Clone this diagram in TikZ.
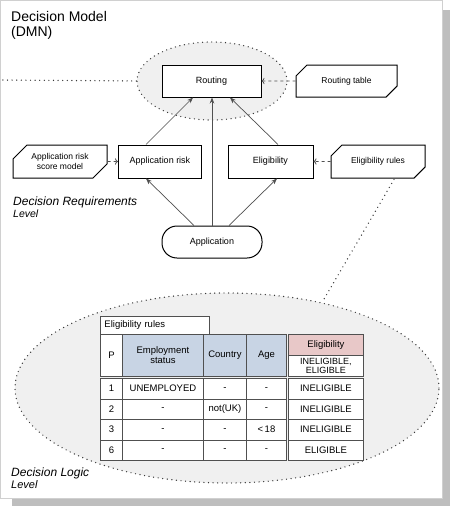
\documentclass[tikz,border=0pt]{standalone}
\usepackage{fontspec}
\setmainfont{Liberation Sans}
\usepackage{tikz}
\usetikzlibrary{calc}
\usetikzlibrary{positioning}
\usetikzlibrary{shapes.geometric}
\usetikzlibrary{shapes.misc}
\usetikzlibrary{arrows.meta}
\definecolor{panelgray}{HTML}{D0D0D0}
\definecolor{shadowgray}{HTML}{BEBEBE}
\definecolor{cloudgray}{HTML}{F0F0F0}
\definecolor{inputblue}{HTML}{C8D4E4}
\definecolor{outputpink}{HTML}{E8C8C8}
\definecolor{edgegray}{HTML}{505050}
\definecolor{dotgray}{HTML}{383838}
\tikzstyle{decisionnode} = [draw, fill=white, rectangle, line width=1pt, minimum width=84pt, minimum height=33pt, font=\fontsize{9}{10}\selectfont]
\tikzstyle{sourcenode} = [draw, fill=white, chamfered rectangle, chamfered rectangle corners={north west,south east}, chamfered rectangle xsep=7pt, chamfered rectangle ysep=7pt, line width=1pt, minimum width=94pt, minimum height=33pt, inner sep=0pt, align=center, font=\fontsize{8.5}{9.5}\selectfont]
\tikzstyle{datanode} = [draw, fill=white, rectangle, rounded corners=15pt, line width=1pt, minimum width=100pt, minimum height=32pt, font=\fontsize{9}{10}\selectfont]
\tikzstyle{cloudnode} = [draw=dotgray, ellipse, fill=cloudgray, line width=1.4pt, line cap=round, dash pattern=on 0pt off 4.6pt]
\tikzstyle{dotlink} = [draw=dotgray, line width=1.4pt, line cap=round, dash pattern=on 0pt off 4.6pt]
\tikzstyle{inforeq} = [draw=edgegray, line width=0.7pt, -{Stealth[length=6pt,width=4.5pt]}]
\tikzstyle{knowreq} = [draw=edgegray, line width=0.7pt, dashed, -{To[length=3pt]}]
\tikzstyle{cellnode} = [draw=edgegray, fill=white, rectangle, line width=0.9pt, inner sep=0pt, anchor=north west, align=center, font=\fontsize{9.5}{10}\selectfont]
\tikzstyle{levelnode} = [anchor=north west, align=left, inner sep=0pt, font=\itshape\fontsize{12}{12}\selectfont]

\begin{document}
\begin{tikzpicture}[x=1pt, y=-1pt]
    \useasboundingbox (0,0) rectangle (450,506);
    \fill[shadowgray] (12,10) rectangle (450,506);
    \draw[panelgray, fill=white] (0.5,0.5) rectangle (442,498.5);

    \node[anchor=north west, align=left, inner sep=0pt, font=\fontsize{14}{15}\selectfont] (title) at (11,11) {Decision Model\\(DMN)};

    \node[cloudnode, minimum width=150pt, minimum height=78pt] (req_cloud) at (212,81) {};
    \node[cloudnode, minimum width=424pt, minimum height=190pt] (logic_cloud) at (227,388) {};
    \coordinate (left_edge) at (0,80);
    \draw[dotlink] (req_cloud.west) -- (left_edge);

    \node[decisionnode, minimum width=99pt, minimum height=32pt] (routing) at (211.5,81) {Routing};
    \node[sourcenode, minimum width=101pt, minimum height=32pt] (routing_table) at ($(routing)+(135,0)$) {Routing table};
    \node[decisionnode, minimum width=83pt] (app_risk) at ($(routing)+(-51.5,80.5)$) {Application risk};
    \node[decisionnode, minimum width=85pt] (eligibility) at ($(routing)+(59,80.5)$) {Eligibility};
    \node[sourcenode] (risk_model) at ($(app_risk)+(-100,0)$) {Application risk\\score model};
    \node[sourcenode] (elig_rules) at ($(eligibility)+(107.5,0)$) {Eligibility rules};
    \node[datanode] (application) at ($(routing)+(0.5,161)$) {Application};

    \draw[inforeq] ($(application.north)+(-18,0)$) -- ($(app_risk.south)+(-14,0)$);
    \draw[inforeq] ($(application.north)+(17,0)$) -- ($(eligibility.south)+(6.5,0)$);
    \draw[inforeq] (application.north) -- (application.north |- routing.south);
    \draw[inforeq] ($(app_risk.north)+(-14,0)$) -- ($(routing.south)+(-18.5,0)$);
    \draw[inforeq] ($(eligibility.north)+(7.5,0)$) -- ($(routing.south)+(18.5,0)$);
    \draw[knowreq] (routing_table) -- (routing);
    \draw[knowreq] (risk_model) -- (app_risk);
    \draw[knowreq] (elig_rules) -- (eligibility);

    \node[levelnode] (req_level) at (13,197) {Decision Requirements\\{\fontsize{10.5}{10.5}\selectfont Level}};

    \draw[dotlink] ($(elig_rules.south)+(16,1)$) -- (logic_cloud.42);

    \node[cellnode, minimum width=109pt, minimum height=18pt, text width=101pt, inner xsep=4pt, align=left] (rules_tab) at (100,316) {Eligibility rules};
    \node[cellnode, minimum width=22pt, minimum height=42pt] (hdr_p) at (100,334) {P};
    \node[cellnode, fill=inputblue, minimum width=81pt, minimum height=42pt] (hdr_emp) at (122,334) {Employment\\status};
    \node[cellnode, fill=inputblue, minimum width=43pt, minimum height=42pt] (hdr_country) at (203,334) {Country};
    \node[cellnode, fill=inputblue, minimum width=40pt, minimum height=42pt] (hdr_age) at (246,334) {Age};
    \node[cellnode, fill=outputpink, minimum width=75pt, minimum height=21pt] (hdr_out) at (288,334) {Eligibility};
    \node[cellnode, minimum width=75pt, minimum height=21pt, font=\fontsize{9}{8.5}\selectfont] (hdr_vals) at (288,355) {INELIGIBLE,\\ELIGIBLE};
    \foreach \num/\emp/\cty/\age/\res [count=\i from 0] in {1/UNEMPLOYED/-/-/INELIGIBLE, 2/-/not(UK)/-/INELIGIBLE, 3/-/-/{<\,18}/INELIGIBLE, 6/-/-/-/ELIGIBLE}{
        \node[cellnode, minimum width=22pt, minimum height=20.5pt] (rule\num_p) at (100,{378+20.5*\i}) {\num};
        \node[cellnode, minimum width=81pt, minimum height=20.5pt] (rule\num_emp) at (122,{378+20.5*\i}) {\emp};
        \node[cellnode, minimum width=43pt, minimum height=20.5pt] (rule\num_country) at (203,{378+20.5*\i}) {\cty};
        \node[cellnode, minimum width=40pt, minimum height=20.5pt] (rule\num_age) at (246,{378+20.5*\i}) {\age};
        \node[cellnode, minimum width=75pt, minimum height=20.5pt] (rule\num_out) at (288,{378+20.5*\i}) {\res};
    }

    \node[levelnode] (logic_level) at (11,468) {Decision Logic\\{\fontsize{11}{11}\selectfont Level}};
\end{tikzpicture}
\end{document}
